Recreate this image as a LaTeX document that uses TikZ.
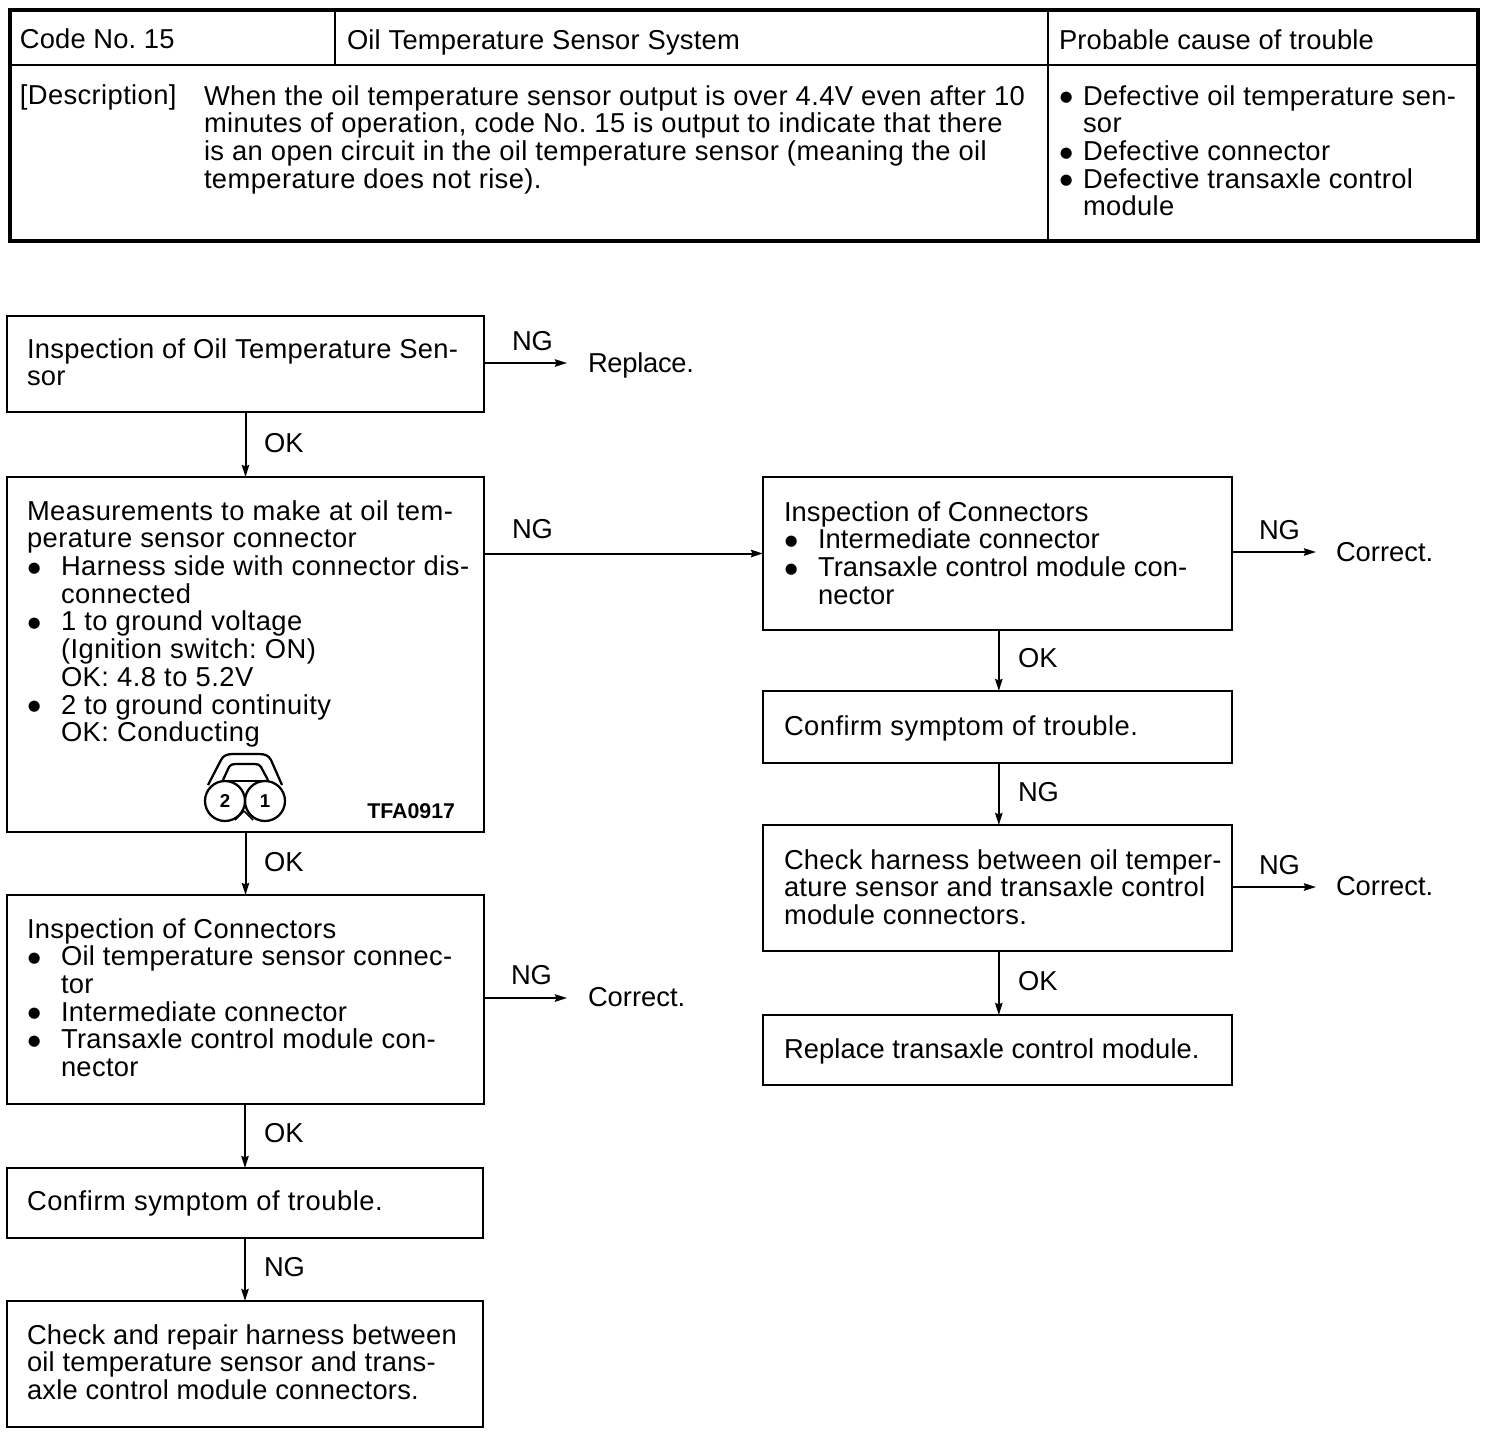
\documentclass[tikz,border=0pt]{standalone}
\usepackage{fontspec}
\setmainfont{Liberation Sans}
\newfontfamily\dotfont{DejaVu Sans}
\usetikzlibrary{arrows.meta}
\tikzset{
  boxn/.style={draw=black,line width=1.5pt,inner sep=0pt,outer sep=0pt},
  txt/.style={anchor=north west,inner sep=0pt,outer sep=0pt,align=left,text=black},
  conn/.style={line width=1.5pt,-{Stealth[length=9pt,width=5.5pt,inset=1pt]}},
  rulel/.style={line width=1.5pt},
  thick rule/.style={line width=2.2pt},
  icon/.style={line width=1.7pt,line join=round},
  pin/.style={circle,draw=black,line width=1.7pt,minimum size={40*0.75pt},inner sep=0pt,font=\bfseries\fontsize{14}{14}\selectfont}
}
\newcommand{\bx}[5]{\node[boxn,minimum width={(#4-#2)*0.75pt},minimum height={(#5-#3)*0.75pt}] (#1) at ({(#2+#4)/2},{(#3+#5)/2}) {};}
\newcommand{\tl}[5][0]{\node[txt,font={\fontsize{20.5}{20.8}\selectfont\addfontfeature{LetterSpace=#1}\frenchspacing}] (#2) at (#3,{#4-20}) {\rule{0pt}{15pt}#5};}
\newcommand{\bigdot}{\raisebox{2.6pt}{\hspace{0.6pt}{\dotfont\fontsize{11}{11}\selectfont ●}}}
\newcommand{\bla}{\makebox[25.5pt][l]{\bigdot}}
\newcommand{\blb}{\makebox[18pt][l]{\bigdot}}
\newcommand{\ind}{\hspace*{25.5pt}}
\newcommand{\indb}{\hspace*{18pt}}
\begin{document}
\begin{tikzpicture}[x=0.75pt,y=-0.75pt]
\useasboundingbox (0,0) rectangle (1504,1436);
% header table
\node[draw=black,line width=2.3pt,inner sep=0pt,outer sep=0pt,minimum width={1468*0.75pt},minimum height={231*0.75pt}] (tab) at (744,125.5) {};
\coordinate (r1) at (10,65);
\coordinate (r2) at (1478,65);
\coordinate (c1a) at (335,10);
\coordinate (c1b) at (335,65);
\coordinate (c2a) at (1048,10);
\coordinate (c2b) at (1048,241);
\draw[thick rule] (r1) -- (r2);
\draw[rulel] (c1a) -- (c1b);
\draw[rulel] (c2a) -- (c2b);
\tl[0.5]{h1}{20}{48}{Code No. 15}
\tl[0.8]{h2}{347}{49}{Oil Temperature Sensor System}
\tl[0.6]{h3}{1059}{49}{Probable cause of trouble}
\tl[1.4]{d1}{20}{104}{[Description]}
\tl[1.5]{d2}{204}{105}{When the oil temperature sensor output is over 4.4V even after 10\\minutes of operation, code No. 15 is output to indicate that there\\is an open circuit in the oil temperature sensor (meaning the oil\\temperature does not rise).}
\tl[1.2]{d3}{1059}{105}{\blb Defective oil temperature sen-\\\indb sor\\\blb Defective connector\\\blb Defective transaxle control\\\indb module}
% boxes
\bx{a1}{7}{316}{484}{412}
\bx{a2}{7}{477}{484}{832}
\bx{a3}{7}{895}{484}{1104}
\bx{a4}{7}{1168}{483}{1238}
\bx{a5}{7}{1301}{483}{1427}
\bx{b1}{763}{477}{1232}{630}
\bx{b2}{763}{691}{1232}{763}
\bx{b3}{763}{825}{1232}{951}
\bx{b4}{763}{1015}{1232}{1085}
% box texts
\tl[1.1]{ta1}{27}{358}{Inspection of Oil Temperature Sen-\\sor}
\tl[1.8]{ta2}{27}{520}{Measurements to make at oil tem-\\perature sensor connector\\\bla Harness side with connector dis-\\\ind connected\\\bla 1 to ground voltage\\\ind (Ignition switch: ON)\\\ind OK: 4.8 to 5.2V\\\bla 2 to ground continuity\\\ind OK: Conducting}
\tl[1.2]{ta3}{27}{938}{Inspection of Connectors\\\bla Oil temperature sensor connec-\\\ind tor\\\bla Intermediate connector\\\bla Transaxle control module con-\\\ind nector}
\tl[2]{ta4}{27}{1210}{Confirm symptom of trouble.}
\tl[0.8]{ta5}{27}{1344}{Check and repair harness between\\oil temperature sensor and trans-\\axle control module connectors.}
\tl[0.4]{tb1}{784}{521}{Inspection of Connectors\\\bla Intermediate connector\\\bla Transaxle control module con-\\\ind nector}
\tl[1.7]{tb2}{784}{735}{Confirm symptom of trouble.}
\tl[1.0]{tb3}{784}{869}{Check harness between oil temper-\\ature sensor and transaxle control\\module connectors.}
\tl[0.3]{tb4}{784}{1058}{Replace transaxle control module.}
% side results
\tl[-1]{r1t}{588}{372}{Replace.}
\tl{r2t}{588}{1006}{Correct.}
\tl{r3t}{1336}{561}{Correct.}
\tl{r4t}{1336}{895}{Correct.}
\coordinate (e1) at (567,363);
\coordinate (e2) at (567,998);
\coordinate (e3) at (1316,552);
\coordinate (e4) at (1316,887);
% connectors
\draw[conn] (a1.south) -- (a2.north);
\draw[conn] (a2.south) -- (a3.north);
\draw[conn] (a3.south -| a4.north) -- (a4.north);
\draw[conn] (a4.south) -- (a5.north);
\draw[conn] (a1.east |- e1) -- (e1);
\draw[conn] (a3.east |- e2) -- (e2);
\draw[conn] (a2.east |- b1.west) -- (b1.west);
\draw[conn] (b1.east |- e3) -- (e3);
\draw[conn] (b3.east |- e4) -- (e4);
\draw[conn] ([xshift=1pt]b1.south) -- ([xshift=1pt]b2.north);
\draw[conn] ([xshift=1pt]b2.south) -- ([xshift=1pt]b3.north);
\draw[conn] ([xshift=1pt]b3.south) -- ([xshift=1pt]b4.north);
% connector labels
\tl{l1}{512}{350}{NG}
\tl{l2}{264}{452}{OK}
\tl{l3}{512}{538}{NG}
\tl{l4}{264}{871}{OK}
\tl{l5}{511}{984}{NG}
\tl{l6}{264}{1142}{OK}
\tl{l7}{264}{1276}{NG}
\tl{l8}{1259}{539}{NG}
\tl{l9}{1018}{667}{OK}
\tl{l10}{1018}{801}{NG}
\tl{l11}{1259}{874}{NG}
\tl{l12}{1018}{990}{OK}
% connector icon
\draw[icon] (208,785) -- (221,760) to[out=65,in=180] (233,754) -- (259,754) to[out=0,in=115] (271,760) -- (282,785);
\draw[icon] (223,780) -- (229,767) to[out=65,in=185] (235,764) -- (255,764) to[out=-5,in=115] (261,767) -- (268,780);
\draw[icon] (223,781) -- (268,781);
\node[pin] (p2) at (225,801) {2};
\node[pin] (p1) at (265,801) {1};
\draw[line width=1.2pt] (244,811) -- (235,820);
\draw[line width=1.2pt] (244,811) -- (253,820);
\node[anchor=base west,inner sep=0pt,font=\bfseries\fontsize{16}{16}\selectfont] (fig) at (367,818) {TFA0917};
\end{tikzpicture}
\end{document}
